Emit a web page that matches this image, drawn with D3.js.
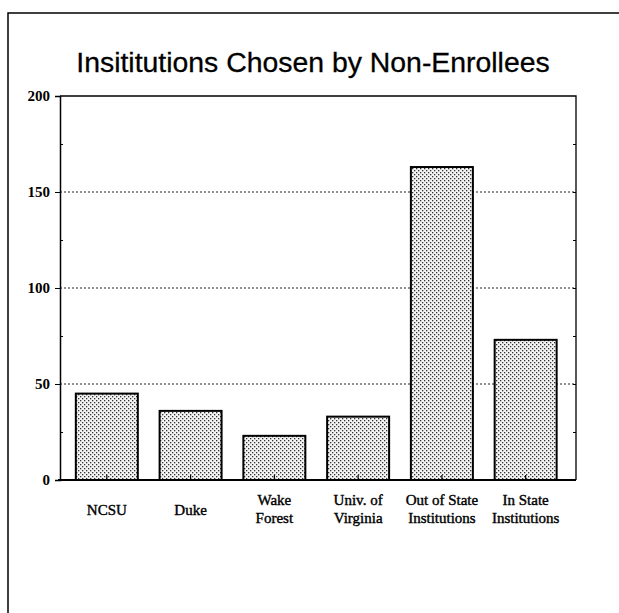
<!DOCTYPE html>
<html>
<head>
<meta charset="utf-8">
<script src="https://cdn.jsdelivr.net/npm/d3@7"></script>
<style>
  html, body { margin: 0; padding: 0; background: #fff; }
  svg { display: block; }
</style>
</head>
<body>
<svg id="chart" width="619" height="613"></svg>
<script>
const title = "Insititutions Chosen by Non-Enrollees";
const categories = [
  ["NCSU"],
  ["Duke"],
  ["Wake", "Forest"],
  ["Univ. of", "Virginia"],
  ["Out of State", "Institutions"],
  ["In State", "Institutions"]
];
const values = [45, 36, 23, 33, 163, 73];
const majorTicks = [0, 50, 100, 150, 200];
const minorTicks = [25, 75, 125, 175];
const gridValues = [50, 100, 150];

const svg = d3.select("#chart");
const W = 619, H = 613;
const plot = { left: 60, right: 576, top: 96, bottom: 480 };

// pattern (stipple)
const defs = svg.append("defs");
const pat = defs.append("pattern")
  .attr("id", "stipple").attr("patternUnits", "userSpaceOnUse")
  .attr("width", 4).attr("height", 4);
pat.append("rect").attr("width", 4).attr("height", 4).attr("fill", "#f4f4f4");
pat.append("rect").attr("x", 0).attr("y", 0).attr("width", 1.3).attr("height", 1.3).attr("fill", "#333");
pat.append("rect").attr("x", 2).attr("y", 2).attr("width", 1.3).attr("height", 1.3).attr("fill", "#333");

// outer frame (left and top edges visible)
svg.append("path")
  .attr("d", d3.line()([[8, H], [8, 13], [W, 13]]))
  .attr("fill", "none").attr("stroke", "#000").attr("stroke-width", 1.5);

// title
svg.append("text")
  .attr("x", 313).attr("y", 72)
  .attr("text-anchor", "middle")
  .attr("font-family", "Liberation Sans, Arial, sans-serif")
  .attr("font-size", 28.4)
  .attr("fill", "#000").attr("stroke", "#000").attr("stroke-width", 0.3)
  .text(title);

const x = d3.scaleBand()
  .domain(d3.range(categories.length))
  .range([plot.left, plot.right])
  .paddingInner(0.26).paddingOuter(0.21).align(0.45);

const y = d3.scaleLinear().domain([0, 200]).range([plot.bottom, plot.top]);

// gridlines
svg.append("g").selectAll("line").data(gridValues).join("line")
  .attr("x1", plot.left).attr("x2", plot.right)
  .attr("y1", d => y(d)).attr("y2", d => y(d))
  .attr("stroke", "#222").attr("stroke-width", 1)
  .attr("stroke-dasharray", "2,2");

// bars
svg.append("g").selectAll("rect").data(values).join("rect")
  .attr("x", (d, i) => x(i))
  .attr("y", d => y(d))
  .attr("width", x.bandwidth())
  .attr("height", d => y(0) - y(d))
  .attr("fill", "url(#stipple)")
  .attr("stroke", "#000").attr("stroke-width", 2);

// small center ticks at bar bottoms
svg.append("g").selectAll("line").data(values).join("line")
  .attr("x1", (d, i) => x(i) + x.bandwidth() / 2)
  .attr("x2", (d, i) => x(i) + x.bandwidth() / 2)
  .attr("y1", y(0)).attr("y2", y(0) - 5)
  .attr("stroke", "#000").attr("stroke-width", 1.2);

// plot frame: top, right
svg.append("path")
  .attr("d", d3.line()([[plot.left, plot.top], [plot.right, plot.top], [plot.right, plot.bottom]]))
  .attr("fill", "none").attr("stroke", "#000").attr("stroke-width", 1.3);

// left axis (major)
const yAxis = svg.append("g")
  .attr("transform", `translate(${plot.left},0)`)
  .call(d3.axisLeft(y).tickValues(majorTicks).tickSize(5).tickPadding(5).tickFormat(d3.format("d")));
yAxis.select(".domain").attr("stroke-width", 1.5);
yAxis.selectAll("text")
  .attr("font-family", "Liberation Serif, Times New Roman, serif")
  .attr("font-size", 15).attr("font-weight", "bold").attr("fill", "#000");

// minor ticks (inside)
const yMinor = svg.append("g")
  .attr("transform", `translate(${plot.left},0)`)
  .call(d3.axisRight(y).tickValues(minorTicks).tickSize(3).tickFormat(""));
yMinor.select(".domain").remove();

// right axis minor ticks (inside)
const yRight = svg.append("g")
  .attr("transform", `translate(${plot.right},0)`)
  .call(d3.axisLeft(y).tickValues(minorTicks.concat(gridValues)).tickSize(3).tickFormat(""));
yRight.select(".domain").remove();

// bottom axis line
svg.append("line")
  .attr("x1", plot.left - 2).attr("x2", plot.right)
  .attr("y1", y(0)).attr("y2", y(0))
  .attr("stroke", "#000").attr("stroke-width", 2);

// category labels
const lab = svg.append("g").selectAll("text").data(categories).join("text")
  .attr("text-anchor", "middle")
  .attr("font-family", "Liberation Serif, Times New Roman, serif")
  .attr("font-size", 15)
  .attr("fill", "#000").attr("stroke", "#000").attr("stroke-width", 0.4)
  .attr("transform", (d, i) => `translate(${x(i) + x.bandwidth() / 2},0)`);
lab.each(function(d) {
  const t = d3.select(this);
  const base = d.length === 1 ? 515 : 505;
  d.forEach((line, k) => {
    t.append("tspan").attr("x", 0).attr("y", base + k * 18).text(line);
  });
});
</script>
</body>
</html>
